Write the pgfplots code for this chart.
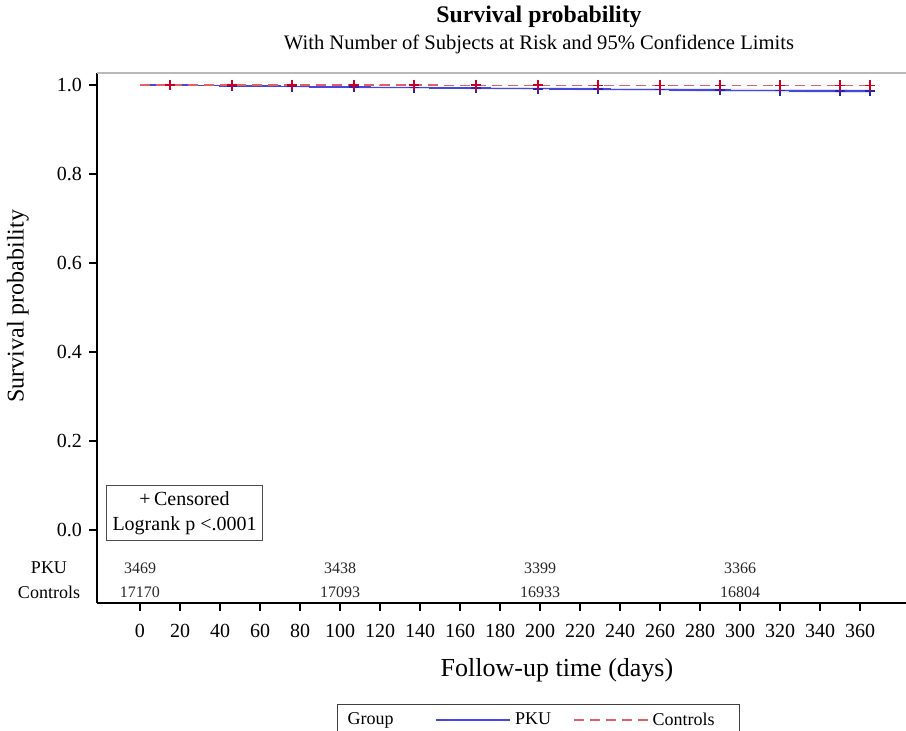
\documentclass[border=0pt]{standalone}
\usepackage{fontspec}
\setmainfont{Liberation Serif}
\usepackage{pgfplots}
\usepackage{pgfplotstable}
\pgfplotsset{compat=1.18}

\definecolor{pkuline}{RGB}{70,70,225}
\definecolor{ctlline}{RGB}{225,95,105}
\definecolor{pkumark}{RGB}{35,35,185}
\definecolor{ctlmark}{RGB}{200,0,40}

\pgfplotsset{longline/.style={legend image code/.code={\draw[##1] (0pt,0pt) -- (37pt,0pt);}}}

% Kaplan-Meier estimates
\pgfplotstableread{
day surv
0   1.0000
10  0.9994
25  0.9988
40  0.9982
55  0.9975
70  0.9968
85  0.9961
100 0.9954
115 0.9948
130 0.9942
145 0.9936
160 0.9930
175 0.9925
190 0.9919
205 0.9913
220 0.9908
235 0.9903
250 0.9897
265 0.9892
280 0.9887
295 0.9881
310 0.9876
325 0.9871
340 0.9866
355 0.9861
365 0.9861
}\pkucurve

\pgfplotstableread{
day surv
0   1.0000
30  0.9998
60  0.9996
90  0.9995
120 0.9994
150 0.9993
180 0.9992
210 0.9991
240 0.9990
270 0.9989
300 0.9988
330 0.9987
365 0.9987
}\ctlcurve

% censored observations
\pgfplotstableread{
day surv
15  0.9994
46  0.9982
76  0.9968
107 0.9954
137 0.9942
168 0.9930
199 0.9919
229 0.9908
260 0.9897
290 0.9887
320 0.9876
350 0.9866
365 0.9861
}\pkucens

\pgfplotstableread{
day surv
15  1.0000
46  0.9998
76  0.9996
107 0.9995
137 0.9994
168 0.9993
199 0.9992
229 0.9991
260 0.9990
290 0.9989
320 0.9988
350 0.9987
365 0.9987
}\ctlcens

% number of subjects at risk
\pgfplotstableread{
day y n
0   -0.0854 3469
100 -0.0854 3438
200 -0.0854 3399
300 -0.0854 3366
0   -0.1393 17170
100 -0.1393 17093
200 -0.1393 16933
300 -0.1393 16804
}\atrisk

\begin{document}
\begin{tikzpicture}
\begin{axis}[
  at={(48.5pt,-301.5pt)},
  scale only axis,
  width=460pt,
  height=265pt,
  xmin=-21.5, xmax=438.5,
  ymin=-0.164, ymax=1.027,
  axis x line*=bottom,
  axis y line*=left,
  axis line style={-, line width=0.8pt, black},
  xtick={0,20,...,360},
  ytick={0,0.2,0.4,0.6,0.8,1.0},
  yticklabel style={/pgf/number format/.cd, fixed, fixed zerofill, precision=1},
  tick align=outside,
  major tick length=4pt,
  tick style={black, line width=0.8pt},
  ticklabel style={font=\fontsize{10}{12}\selectfont},
  /pgf/number format/assume math mode=true,
  xticklabel style={yshift=-3pt},
  xlabel={Follow-up time (days)},
  ylabel={Survival probability},
  xlabel style={at={(axis description cs:0.5,-0.1264)}, anchor=center,
    font=\fontsize{13}{15}\selectfont},
  ylabel style={at={(axis description cs:-0.0859,0.560)}, anchor=center,
    font=\fontsize{12}{14}\selectfont},
  legend style={at={(axis description cs:0.2609,-0.1906)}, anchor=north west,
    draw=black!75, line width=0.5pt, legend columns=3, legend cell align=left,
    font=\fontsize{9}{11}\selectfont, inner xsep=3pt, inner ysep=2pt,
    /tikz/every even column/.append style={column sep=9pt}},
  clip=false
]

\addlegendimage{empty legend}
\addlegendentry{\makebox[33pt][l]{Group}}

\addplot[fill=pkuline, fill opacity=0.2, draw=none, forget plot] coordinates
  {(0,1) (100,0.9978) (200,0.9948) (300,0.9918) (365,0.9902)
   (365,0.9820) (300,0.9844) (200,0.9890) (100,0.9930) (0,1)} -- cycle;

\addplot[const plot, pkuline, line width=0.8pt, longline]
  table[x=day, y=surv] {\pkucurve};
\addlegendentry{PKU}

\addplot[const plot, ctlline, line width=0.8pt, dash pattern=on 5pt off 3pt, longline]
  table[x=day, y=surv] {\ctlcurve};
\addlegendentry{\makebox[38.5pt][l]{Controls}}

\addplot[only marks, mark=+, mark size=2.6pt, pkumark, line width=0.9pt, forget plot]
  table[x=day, y=surv] {\pkucens};
\addplot[only marks, mark=+, mark size=2.6pt, ctlmark, line width=0.9pt, forget plot]
  table[x=day, y=surv] {\ctlcens};

\addplot[draw=none, forget plot, nodes near coords, point meta=explicit symbolic,
  every node near coord/.append style={anchor=center, text=black!85,
    font=\fontsize{8}{9}\selectfont}]
  table[x=day, y=y, meta=n] {\atrisk};

\draw[gray!55, line width=0.6pt] (rel axis cs:0,1) -- (rel axis cs:1,1);
\end{axis}

\node[font=\fontsize{9}{11}\selectfont] at (24.5pt,-284pt) {PKU};
\node[font=\fontsize{9}{11}\selectfont] at (24.5pt,-296pt) {Controls};

\node[draw=black!70, line width=0.5pt, align=center, minimum width=77pt,
  inner sep=3pt, anchor=north west, font=\fontsize{10}{12.5}\selectfont]
  at (53pt,-242.5pt) {+\,Censored\\Logrank p <.0001};

\node[font=\bfseries\fontsize{11.9}{14}\selectfont] at (269.5pt,-8.5pt) {Survival probability};
\node[font=\fontsize{10.3}{12}\selectfont] at (269.5pt,-22pt)
  {With Number of Subjects at Risk and 95\% Confidence Limits};

\pgfresetboundingbox
\path[use as bounding box] (0pt,0pt) rectangle (453pt,-365.5pt);
\end{tikzpicture}
\end{document}
